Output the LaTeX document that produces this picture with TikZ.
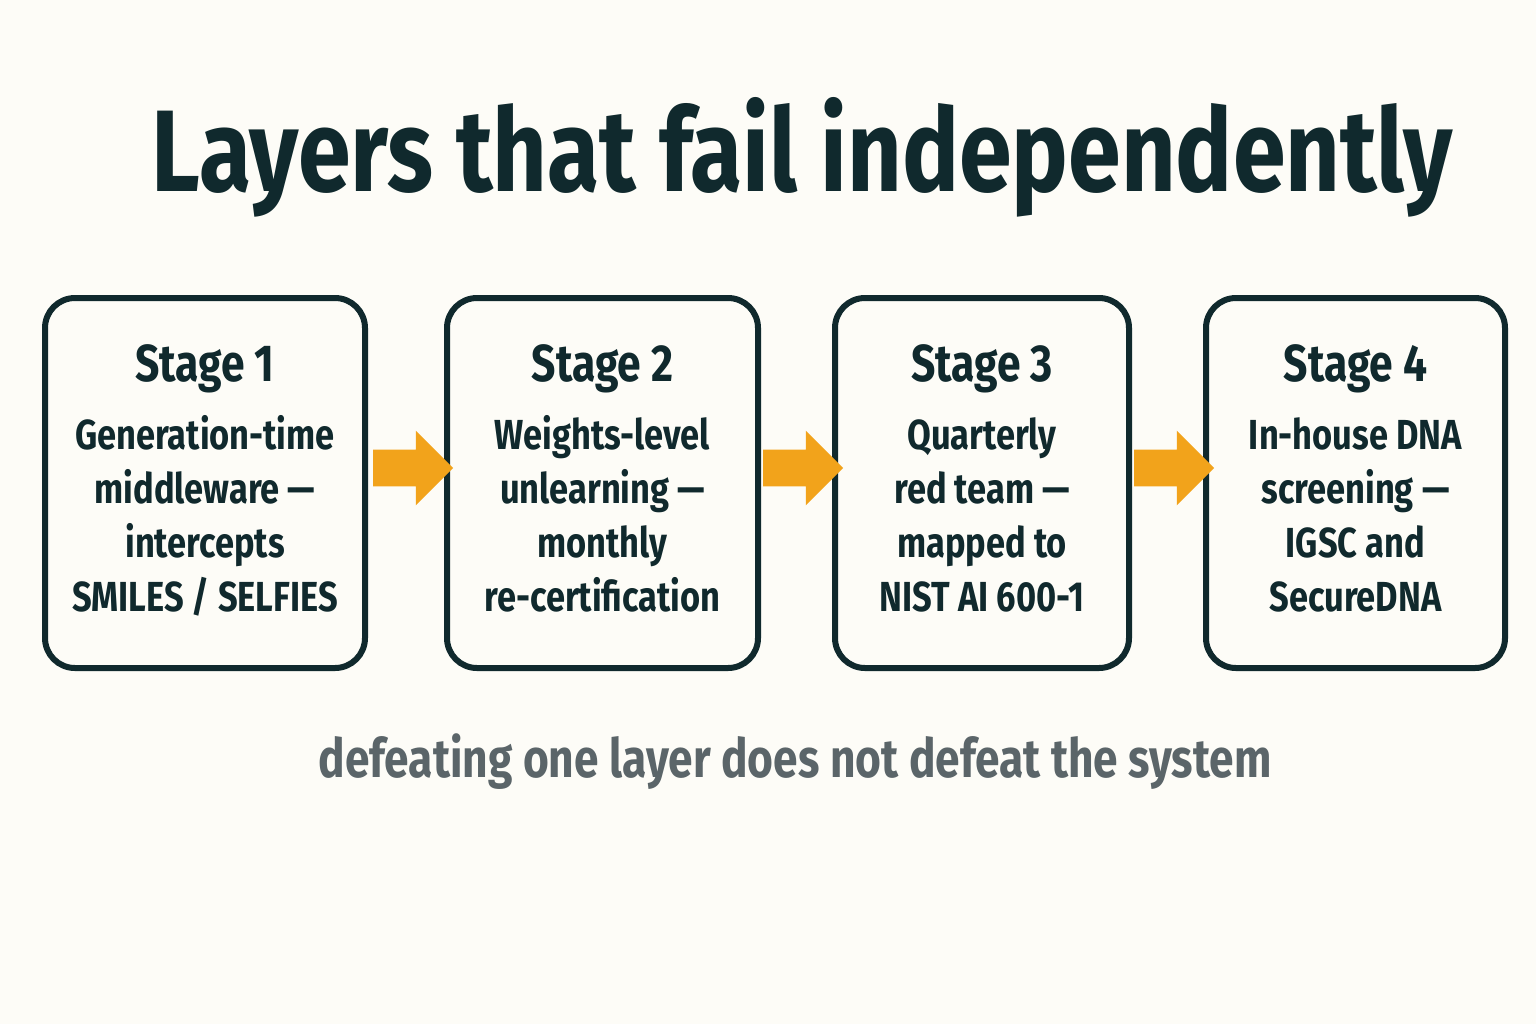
\documentclass[tikz,border=0pt]{standalone}
\usepackage{fontspec}
\setmainfont{Fira Sans}[FakeStretch=0.82]
\usetikzlibrary{shapes.arrows,positioning}
\definecolor{ink}{HTML}{10292D}
\definecolor{amber}{HTML}{F2A31B}
\definecolor{slate}{HTML}{5B6569}
\definecolor{paper}{HTML}{FDFCF7}
\tikzset{
  stage/.style={draw=ink, line width=3pt, rounded corners=15pt, text=ink,
    align=center, anchor=north west, inner sep=0pt},
  flow arrow/.style={single arrow, fill=amber, minimum height=40pt,
    single arrow head extend=9.5pt, inner sep=0pt},
}
\newcommand{\stagebox}[5]{%
  \node[stage, minimum width=#3*0.5pt, minimum height=185pt] (#1) at (#2,295) {};
  \node[text=ink, align=center, font=\fontsize{21}{27}\selectfont\bfseries, below=21pt of #1.north]
    {{\fontsize{26}{30}\selectfont Stage #4}\\[7pt]#5};}
\begin{document}
\begin{tikzpicture}[x=0.5pt,y=-0.5pt]
  \fill[paper] (0,0) rectangle (1536,1024);
  \useasboundingbox (0,0) rectangle (1536,1024);
  \node[text=ink, font=\fontsize{58}{66}\selectfont\bfseries] (title) at (802,157) {Layers that fail independently};
  \stagebox{s_1}{42}{320}{1}{Generation-time\\middleware ---\\intercepts\\SMILES / SELFIES}
  \stagebox{s_2}{444}{311}{2}{Weights-level\\unlearning ---\\monthly\\re-certification}
  \stagebox{s_3}{832}{294}{3}{Quarterly\\red team ---\\mapped to\\NIST AI 600-1}
  \stagebox{s_4}{1203}{299}{4}{In-house DNA\\screening ---\\IGSC and\\SecureDNA}
  \node[flow arrow] (a_1) at (404,468) {\rule{0pt}{18pt}};
  \node[flow arrow] (a_2) at (794,468) {\rule{0pt}{18pt}};
  \node[flow arrow] (a_3) at (1165,468) {\rule{0pt}{18pt}};
  \node[text=slate, font=\fontsize{27}{31}\selectfont\bfseries] (note) at (795,762) {defeating one layer does not defeat the system};
\end{tikzpicture}
\end{document}
